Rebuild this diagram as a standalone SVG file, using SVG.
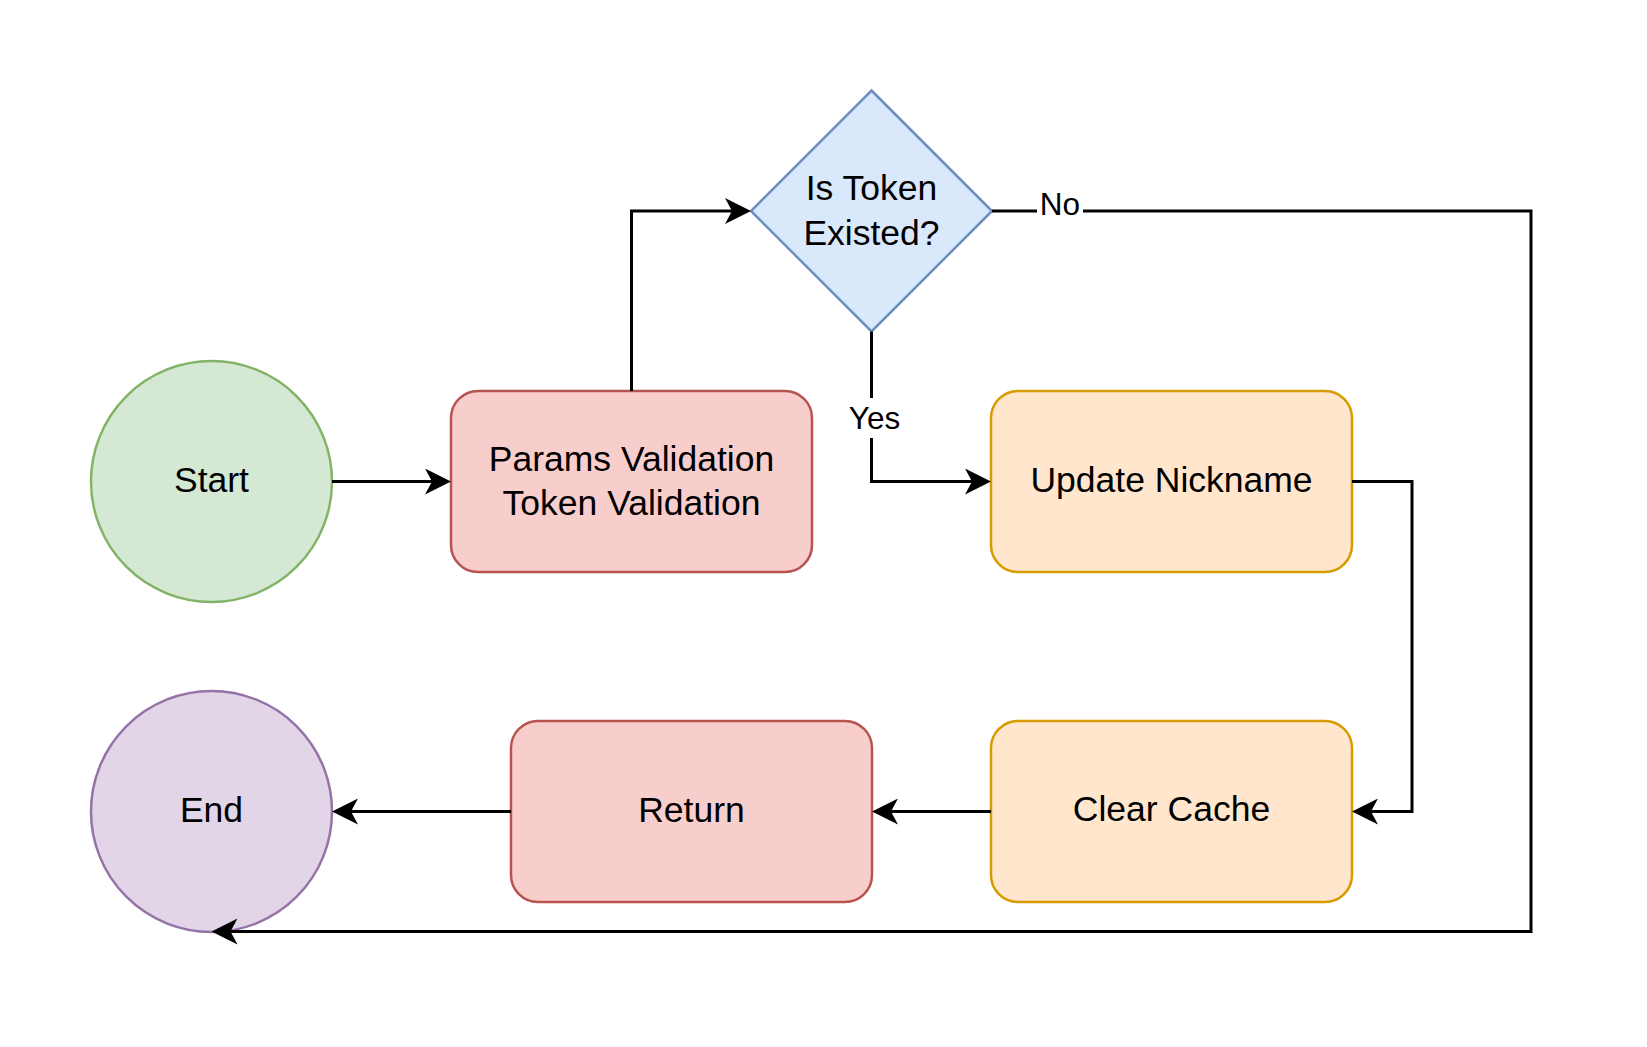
<svg xmlns="http://www.w3.org/2000/svg" width="1647" height="1047" viewBox="0 0 1647 1047">
  <style>
    .node text { font-family: "Liberation Sans", Arial, Helvetica, sans-serif; font-size: 35.5px; fill: #000000; text-anchor: middle; }
    .edge { fill: none; stroke: #000000; stroke-width: 3; }
    .lbl { font-family: "Liberation Sans", Arial, Helvetica, sans-serif; font-size: 31.5px; fill: #000000; text-anchor: middle; }
    .lblbg { fill: #ffffff; stroke: none; }
    .green { fill: #d5e8d4; stroke: #82b366; stroke-width: 2.5; }
    .red { fill: #f8cecc; stroke: #b85450; stroke-width: 2.5; }
    .blue { fill: #dae8fc; stroke: #6c8ebf; stroke-width: 2.5; }
    .orange { fill: #ffe6cc; stroke: #d79b00; stroke-width: 2.5; }
    .purple { fill: #e1d5e7; stroke: #9673a6; stroke-width: 2.5; }
  </style>
  <defs>
    <marker id="arrow" viewBox="0 0 26 26" markerWidth="26" markerHeight="26" markerUnits="userSpaceOnUse" refX="8" refY="13" orient="auto">
      <path d="M26,13 L0,0 L7,13 L0,26 Z" fill="#000000"/>
    </marker>
  </defs>
  <rect x="0" y="0" width="1647" height="1047" fill="#ffffff"/>

  <g id="start" class="node">
    <circle class="green" cx="211.5" cy="481.5" r="120.5"/>
    <text x="211.5" y="491.5">Start</text>
  </g>

  <g id="params" class="node">
    <rect class="red" x="451" y="391" width="361" height="181" rx="27" ry="27"/>
    <text x="631.5" y="470.5">Params Validation</text>
    <text x="631.5" y="515">Token Validation</text>
  </g>

  <g id="decision" class="node">
    <polygon class="blue" points="871.5,90.5 992,211 871.5,331.5 751,211"/>
    <text x="871.5" y="200">Is Token</text>
    <text x="871.5" y="245">Existed?</text>
  </g>

  <g id="update" class="node">
    <rect class="orange" x="991" y="391" width="361" height="181" rx="27" ry="27"/>
    <text x="1171.5" y="491.5">Update Nickname</text>
  </g>

  <g id="clear" class="node">
    <rect class="orange" x="991" y="721" width="361" height="181" rx="27" ry="27"/>
    <text x="1171.5" y="821">Clear Cache</text>
  </g>

  <g id="return" class="node">
    <rect class="red" x="511" y="721" width="361" height="181" rx="27" ry="27"/>
    <text x="691.5" y="821.5">Return</text>
  </g>

  <g id="end" class="node">
    <circle class="purple" cx="211.5" cy="811.5" r="120.5"/>
    <text x="211.5" y="821.5">End</text>
  </g>

  <g id="connectors">
    <path class="edge" d="M332,481.5 L433,481.5" marker-end="url(#arrow)"/>
    <path class="edge" d="M631.5,391 L631.5,211 L733,211" marker-end="url(#arrow)"/>
    <path class="edge" d="M871.5,331.5 L871.5,481.5 L973,481.5" marker-end="url(#arrow)"/>
    <path class="edge" d="M992,211 L1531,211 L1531,931.5 L229.5,931.5" marker-end="url(#arrow)"/>
    <path class="edge" d="M1352,481.5 L1412,481.5 L1412,811.5 L1370,811.5" marker-end="url(#arrow)"/>
    <path class="edge" d="M991,811.5 L890,811.5" marker-end="url(#arrow)"/>
    <path class="edge" d="M511,811.5 L350,811.5" marker-end="url(#arrow)"/>
    <g id="label-yes">
      <rect class="lblbg" x="847" y="398" width="55" height="40"/>
      <text class="lbl" x="874.5" y="429">Yes</text>
    </g>
    <g id="label-no">
      <rect class="lblbg" x="1037" y="192" width="46" height="38"/>
      <text class="lbl" x="1060" y="215">No</text>
    </g>
  </g>
</svg>
